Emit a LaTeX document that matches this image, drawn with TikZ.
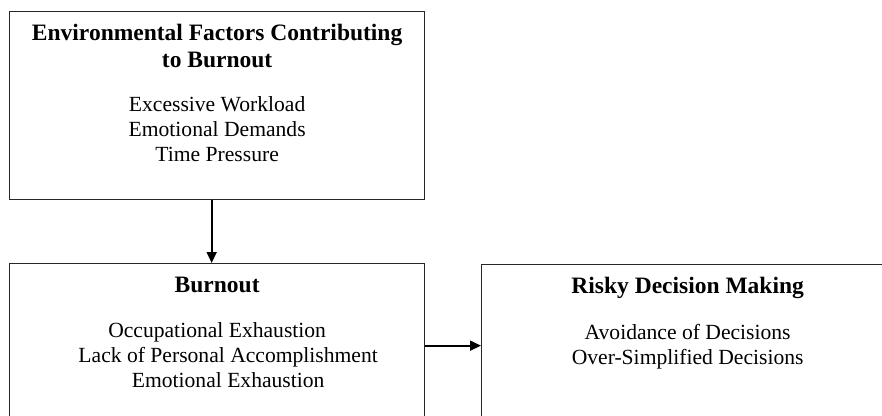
\documentclass[tikz,border=0pt]{standalone}
\usepackage{fontspec}
\setmainfont{Liberation Serif}
\usetikzlibrary{arrows.meta,calc}
\tikzset{
  box/.style={draw, line width=1.3pt, draw=black!85, anchor=north west, inner sep=0pt},
  head/.style={font=\bfseries\fontsize{23.5}{27}\selectfont, align=center, anchor=base, inner sep=0pt},
  body/.style={font=\fontsize{21.6}{25}\selectfont, align=center, anchor=base, inner sep=0pt},
  link/.style={line width=1.7pt, -{Triangle[length=11pt,width=10pt]}}
}
\begin{document}
\begin{tikzpicture}[x=1pt,y=-1pt]
  %%%%% START %%%%%
  \path[use as bounding box] (0,0) rectangle (882,415);
  \clip (0,0) rectangle (882,415);

  % boxes (the lower two run off the page)
  \node[box, minimum width=415pt, minimum height=188pt] (env) at (9,11) {};
  \node[box, minimum width=415pt, minimum height=164pt] (burnout) at (9,263) {};
  \node[box, minimum width=412pt, minimum height=162pt] (risk) at (481,264) {};

  % texts (anchored at the base of their last line)
  \node[head] (envhead) at ($(env.north)+(0,56)$) {Environmental Factors Contributing\\to Burnout};
  \node[body] (envlist) at ($(env.north)+(0,150)$) {Excessive Workload\\Emotional Demands\\Time Pressure};

  \node[head] (burnouthead) at ($(burnout.north)+(0,29)$) {Burnout};
  \node[body] (burnoutlist) at ($(burnout.north)+(11,124)$) {Occupational Exhaustion\hspace*{22pt}\\Lack of Personal Accomplishment\\Emotional Exhaustion};

  \node[head] (riskhead) at ($(risk.north)+(0,29)$) {Risky Decision Making};
  \node[body] (risklist) at ($(risk.north)+(0,100)$) {Avoidance of Decisions\\Over-Simplified Decisions};

  % arrows
  \draw[link] ([xshift=-5.5pt]env.south) -- ([xshift=-5.5pt]burnout.north);
  \draw[link] (burnout) -- (risk);
  %%%%% END %%%%%
\end{tikzpicture}
\end{document}
